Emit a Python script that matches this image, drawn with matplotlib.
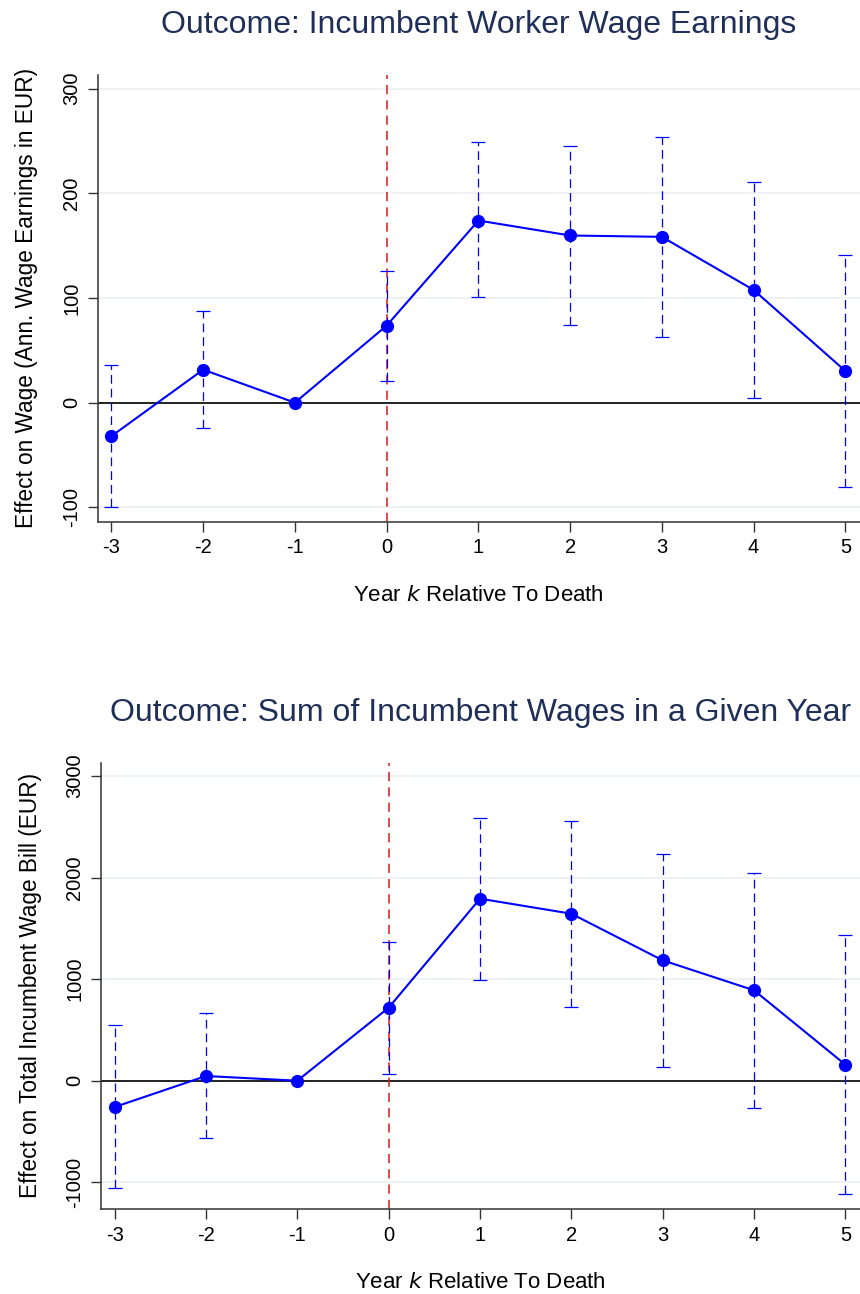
import numpy as np
import matplotlib.pyplot as plt

plt.rcParams['font.family'] = ['Liberation Sans', 'DejaVu Sans']

# 数据
years = [-3, -2, -1, 0, 1, 2, 3, 4, 5]

wage_coef = [-32, 31.5, 0, 73.6, 174, 159.7, 158.4, 107.7, 30.3]
wage_hi = [36, 87.7, 0, 126, 248.6, 245, 253.7, 210.7, 140.9]
wage_lo = [-100, -24, 0, 21, 100.8, 74.3, 63, 4.5, -80.3]

bill_coef = [-259, 46, 0, 719, 1792, 1644, 1185, 890, 158]
bill_hi = [545, 663, 0, 1369, 2587, 2560, 2229, 2048, 1435]
bill_lo = [-1057, -567, 0, 69, 995, 723, 138, -266, -1118]

wage_ticks = [-100, 0, 100, 200, 300]
bill_ticks = [-1000, 0, 1000, 2000, 3000]

title_color = '#1f2f57'
grid_color = '#edf2f4'


def draw(ax, coef, lo, hi, yticks, ylim, title, ylabel):
    coef = np.array(coef, dtype=float)
    lo = np.array(lo, dtype=float)
    hi = np.array(hi, dtype=float)
    x = np.array(years)
    ci = np.array([i for i in range(len(x)) if hi[i] != lo[i]])

    for t in yticks:
        ax.axhline(t, color=grid_color, lw=1.5, zorder=0)
    ax.axhline(0, color='black', lw=1.2, zorder=1)
    ax.axvline(0, color='#d7191c', lw=1.1, ls=(0, (6, 4)), zorder=2)

    eb = ax.errorbar(x[ci], coef[ci], yerr=[coef[ci] - lo[ci], hi[ci] - coef[ci]],
                     fmt='none', ecolor='blue', elinewidth=0.9, capsize=5,
                     capthick=0.9, zorder=3)
    eb[2][0].set_linestyle((0, (7, 4)))
    ax.plot(x, coef, '-o', color='blue', lw=1.5, ms=8.5, zorder=4)

    ax.set_xlim(-3.15, 5.16)
    ax.set_ylim(*ylim)
    ax.set_xticks(years)
    ax.set_xticklabels([str(v) for v in years], fontsize=14.5)
    ax.set_yticks(yticks)
    ax.set_yticklabels([str(v) for v in yticks], fontsize=14.5, rotation=90, va='center')
    ax.tick_params(length=7, width=1, color='#333333', pad=5)
    for s in ['top', 'right']:
        ax.spines[s].set_visible(False)
    for s in ['left', 'bottom']:
        ax.spines[s].set_color('#333333')
        ax.spines[s].set_linewidth(1.1)
    ax.set_ylabel(ylabel, fontsize=16.3, labelpad=17)
    ax.set_xlabel('Year $k$ Relative To Death', fontsize=16, labelpad=20)
    ax.set_title(title, fontsize=23, color=title_color, pad=30)


fig = plt.figure(figsize=(8.6, 12.94), dpi=100)
ax1 = fig.add_axes([0.1136, 0.5968, 0.8864, 0.3452])
ax2 = fig.add_axes([0.1174, 0.0657, 0.8826, 0.3449])

draw(ax1, wage_coef, wage_lo, wage_hi, wage_ticks, (-113.8, 313),
     'Outcome: Incumbent Worker Wage Earnings',
     'Effect on Wage (Ann. Wage Earnings in EUR)')
draw(ax2, bill_coef, bill_lo, bill_hi, bill_ticks, (-1263, 3131),
     'Outcome: Sum of Incumbent Wages in a Given Year',
     'Effect on Total Incumbent Wage Bill (EUR)')

fig.savefig('out.png', dpi=100)
